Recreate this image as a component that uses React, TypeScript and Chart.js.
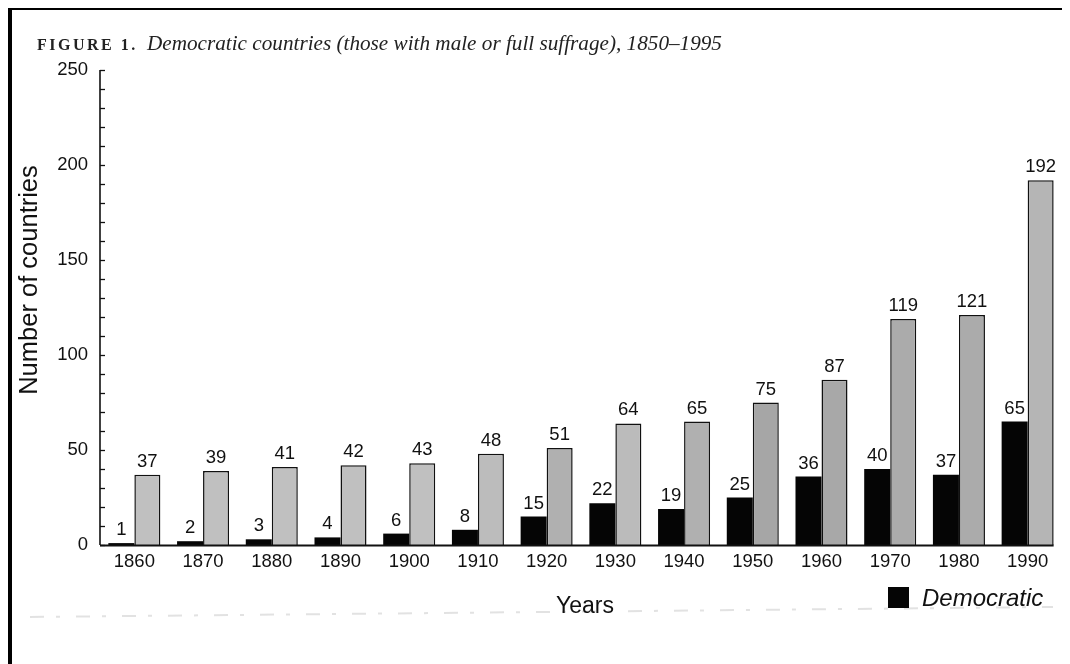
import { useEffect, useRef } from "react";
import { Chart, registerables } from "chart.js";

Chart.register(...registerables);

const years = ["1860", "1870", "1880", "1890", "1900", "1910", "1920", "1930", "1940", "1950", "1960", "1970", "1980", "1990"];
const democratic = [1, 2, 3, 4, 6, 8, 15, 22, 19, 25, 36, 40, 37, 65];
const allCountries = [37, 39, 41, 42, 43, 48, 51, 64, 65, 75, 87, 119, 121, 192];
const yLabelValues = [0, 50, 100, 150, 200, 250];
const greyShades = ["#c0c0c0", "#c0c0c0", "#c0c0c0", "#c0c0c0", "#c0c0c0", "#bcbcbc", "#b0b0b0", "#bbbbbb", "#b0b0b0", "#a6a6a6", "#a8a8a8", "#ababab", "#ababab", "#b5b5b5"];

const titleLead = "FIGURE 1.";
const titleText = "Democratic countries (those with male or full suffrage), 1850\u20131995";
const yTitle = "Number of countries";
const xTitle = "Years";

const SANS = '"Liberation Sans", Arial, sans-serif';
const SERIF = '"Liberation Serif", "DejaVu Serif", serif';

const decorPlugin = {
  id: "decor",
  afterDatasetsDraw(chart: any) {
    const ctx = chart.ctx as CanvasRenderingContext2D;
    const area = chart.chartArea;
    const y = chart.scales.y;
    ctx.save();

    // y axis line and inward ticks
    ctx.strokeStyle = "#111";
    ctx.lineWidth = 1.6;
    ctx.beginPath();
    ctx.moveTo(area.left, y.getPixelForValue(250));
    ctx.lineTo(area.left, area.bottom);
    ctx.stroke();
    ctx.lineWidth = 1.3;
    y.ticks.forEach((t: any) => {
      const py = Math.round(y.getPixelForValue(t.value)) + 0.5;
      ctx.beginPath();
      ctx.moveTo(area.left, py);
      ctx.lineTo(area.left + 5, py);
      ctx.stroke();
    });

    // x axis line up to the right edge of the last bar
    const meta1 = chart.getDatasetMeta(1);
    const last = meta1.data[meta1.data.length - 1];
    const lp = last.getProps(["x", "width"], true);
    ctx.lineWidth = 1.8;
    ctx.beginPath();
    ctx.moveTo(area.left, area.bottom + 0.5);
    ctx.lineTo(lp.x + lp.width / 2, area.bottom + 0.5);
    ctx.stroke();

    // value labels
    ctx.fillStyle = "#111";
    ctx.font = `18.5px ${SANS}`;
    ctx.textAlign = "center";
    ctx.textBaseline = "alphabetic";
    chart.data.datasets.forEach((ds: any, i: number) => {
      const meta = chart.getDatasetMeta(i);
      meta.data.forEach((el: any, j: number) => {
        const p = el.getProps(["x", "y"], true);
        ctx.fillText(String(ds.data[j]), p.x, p.y - 8);
      });
    });

    // y axis title
    ctx.save();
    ctx.translate(22, 272);
    ctx.rotate(-Math.PI / 2);
    ctx.font = `25.5px ${SANS}`;
    ctx.textAlign = "center";
    ctx.textBaseline = "middle";
    ctx.fillText(yTitle, 0, 0);
    ctx.restore();

    // faint scan line
    ctx.strokeStyle = "rgba(160,160,160,0.3)";
    ctx.lineWidth = 2;
    ctx.setLineDash([14, 12, 4, 16]);
    ctx.beginPath();
    ctx.moveTo(22, 609);
    ctx.lineTo(1045, 599);
    ctx.stroke();
    ctx.setLineDash([]);

    // x axis title
    ctx.fillStyle = "#111";
    ctx.font = `23px ${SANS}`;
    ctx.textAlign = "center";
    ctx.fillText(xTitle, 577, 605);

    // legend (first dataset only)
    const ds0 = chart.data.datasets[0];
    ctx.fillStyle = ds0.backgroundColor;
    ctx.fillRect(880, 579, 21, 21);
    ctx.fillStyle = "#111";
    ctx.font = `italic 24px ${SANS}`;
    ctx.textAlign = "left";
    ctx.fillText(ds0.label, 914, 598);

    // figure title
    ctx.fillStyle = "#222";
    ctx.font = `bold 16px ${SERIF}`;
    (ctx as any).letterSpacing = "2.5px";
    ctx.fillText(titleLead, 29, 42);
    (ctx as any).letterSpacing = "0px";
    ctx.font = `italic 20px ${SERIF}`;
    const w = ctx.measureText(titleText).width;
    const size = (20 * 575) / w;
    ctx.font = `italic ${size.toFixed(2)}px ${SERIF}`;
    ctx.fillText(titleText, 139, 42);

    ctx.restore();
  },
};

export default function App() {
  const ref = useRef<HTMLCanvasElement | null>(null);

  useEffect(() => {
    if (!ref.current) return;
    const chart = new Chart(ref.current, {
      type: "bar",
      data: {
        labels: years,
        datasets: [
          {
            label: "Democratic",
            data: democratic,
            backgroundColor: "#050505",
            borderWidth: 0,
            categoryPercentage: 0.757,
            barPercentage: 1,
          },
          {
            label: "All countries",
            data: allCountries,
            backgroundColor: greyShades,
            borderColor: "#111",
            borderWidth: 1.5,
            categoryPercentage: 0.757,
            barPercentage: 1,
          },
        ],
      },
      options: {
        responsive: false,
        animation: false,
        devicePixelRatio: 1,
        layout: { padding: { top: 62, right: 8, left: 0, bottom: 0 } },
        plugins: {
          legend: { display: false },
          title: { display: false },
          tooltip: { enabled: false },
        },
        scales: {
          x: {
            grid: { display: false, drawTicks: false },
            border: { display: false },
            ticks: {
              padding: 6,
              color: "#111",
              font: { size: 18.5, family: SANS },
              autoSkip: false,
              maxRotation: 0,
            },
            afterFit: (s: any) => {
              s.height = 119;
            },
          },
          y: {
            min: 0,
            max: 250,
            grid: { display: false, drawTicks: false },
            border: { display: false },
            ticks: {
              stepSize: 10,
              autoSkip: false,
              padding: 12,
              color: "#111",
              font: { size: 18.5, family: SANS },
              callback: (v: any) => (yLabelValues.includes(Number(v)) ? String(v) : ""),
            },
            afterFit: (s: any) => {
              s.width = 92;
            },
          },
        },
      },
      plugins: [decorPlugin],
    });
    return () => chart.destroy();
  }, []);

  return (
    <div style={{ position: "relative", width: 1062, height: 656, background: "#fff" }}>
      <canvas ref={ref} width={1062} height={656} style={{ display: "block" }} />
      <div style={{ position: "absolute", left: 0, top: -1, width: 1062, height: 3, background: "#000" }} />
      <div style={{ position: "absolute", left: 0, top: -1, width: 4, height: 657, background: "#000" }} />
    </div>
  );
}
